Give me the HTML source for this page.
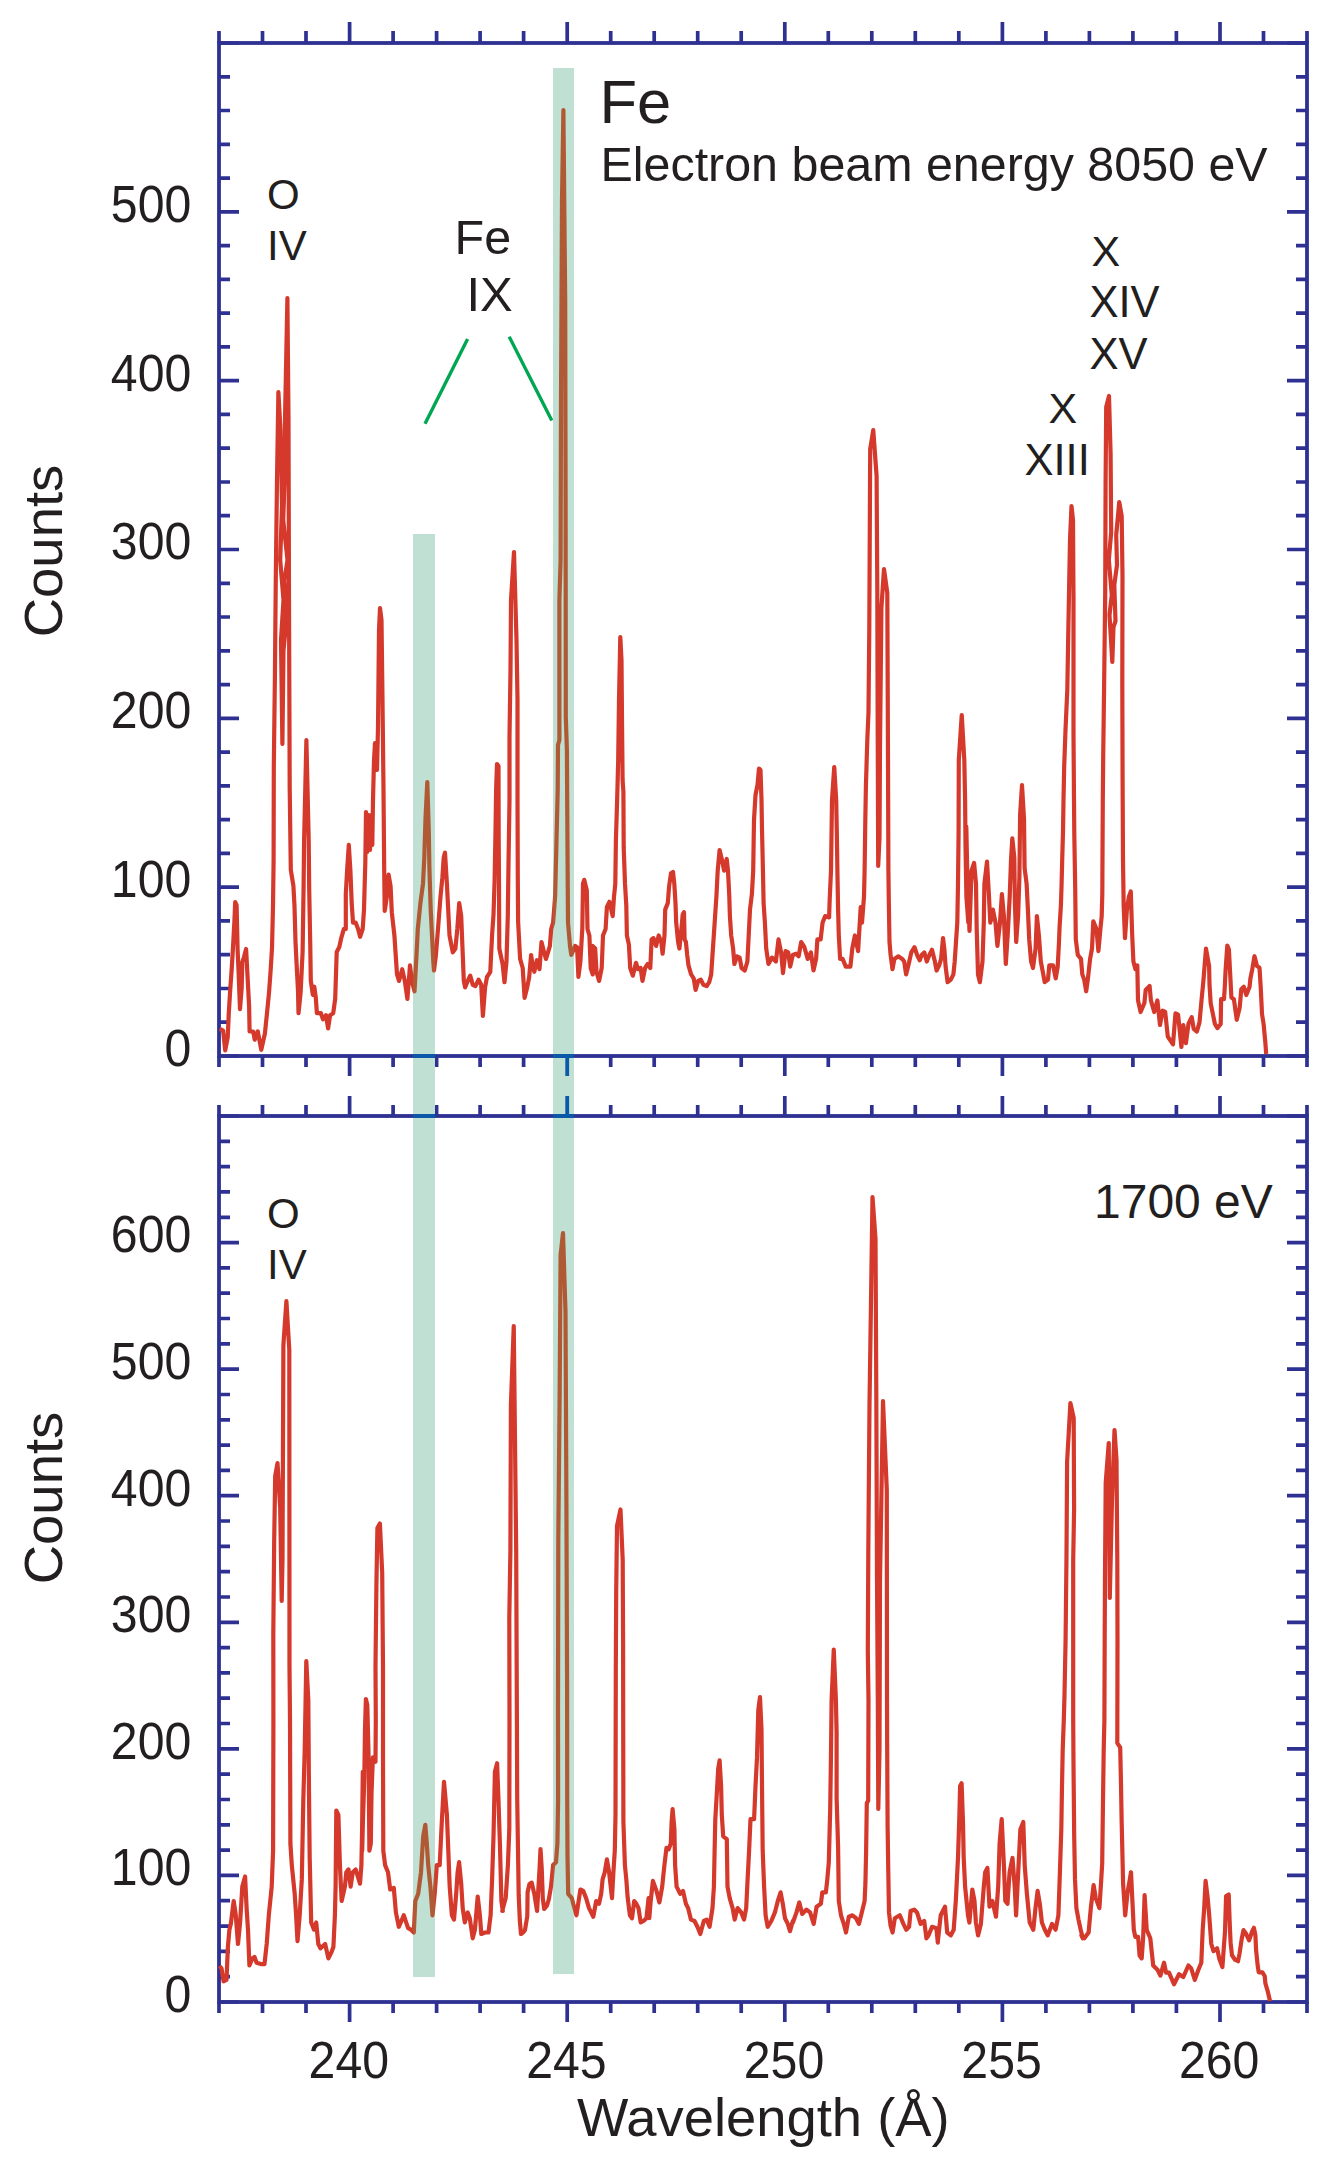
<!DOCTYPE html><html><head><meta charset="utf-8"><style>html,body{margin:0;padding:0;background:#fff;overflow:hidden;}svg{display:block}text{font-family:"Liberation Sans",sans-serif;fill:#231f20}</style></head><body>
<svg width="1331" height="2160" viewBox="0 0 1331 2160">
<rect width="100%" height="100%" fill="#fff"/>
<path d="M219.0 43 V31 M219.0 1056 V1067 M219.0 1116 V1105 M219.0 2002 V2013 M262.5 43 V31 M262.5 1056 V1067 M262.5 1116 V1105 M262.5 2002 V2013 M306.0 43 V31 M306.0 1056 V1067 M306.0 1116 V1105 M306.0 2002 V2013 M349.6 43 V22 M349.6 1056 V1076 M349.6 1116 V1096 M349.6 2002 V2022 M393.1 43 V31 M393.1 1056 V1067 M393.1 1116 V1105 M393.1 2002 V2013 M436.6 43 V31 M436.6 1056 V1067 M436.6 1116 V1105 M436.6 2002 V2013 M480.1 43 V31 M480.1 1056 V1067 M480.1 1116 V1105 M480.1 2002 V2013 M523.6 43 V31 M523.6 1056 V1067 M523.6 1116 V1105 M523.6 2002 V2013 M567.2 43 V22 M567.2 1056 V1076 M567.2 1116 V1096 M567.2 2002 V2022 M610.7 43 V31 M610.7 1056 V1067 M610.7 1116 V1105 M610.7 2002 V2013 M654.2 43 V31 M654.2 1056 V1067 M654.2 1116 V1105 M654.2 2002 V2013 M697.7 43 V31 M697.7 1056 V1067 M697.7 1116 V1105 M697.7 2002 V2013 M741.2 43 V31 M741.2 1056 V1067 M741.2 1116 V1105 M741.2 2002 V2013 M784.8 43 V22 M784.8 1056 V1076 M784.8 1116 V1096 M784.8 2002 V2022 M828.3 43 V31 M828.3 1056 V1067 M828.3 1116 V1105 M828.3 2002 V2013 M871.8 43 V31 M871.8 1056 V1067 M871.8 1116 V1105 M871.8 2002 V2013 M915.3 43 V31 M915.3 1056 V1067 M915.3 1116 V1105 M915.3 2002 V2013 M958.8 43 V31 M958.8 1056 V1067 M958.8 1116 V1105 M958.8 2002 V2013 M1002.4 43 V22 M1002.4 1056 V1076 M1002.4 1116 V1096 M1002.4 2002 V2022 M1045.9 43 V31 M1045.9 1056 V1067 M1045.9 1116 V1105 M1045.9 2002 V2013 M1089.4 43 V31 M1089.4 1056 V1067 M1089.4 1116 V1105 M1089.4 2002 V2013 M1132.9 43 V31 M1132.9 1056 V1067 M1132.9 1116 V1105 M1132.9 2002 V2013 M1176.4 43 V31 M1176.4 1056 V1067 M1176.4 1116 V1105 M1176.4 2002 V2013 M1220.0 43 V22 M1220.0 1056 V1076 M1220.0 1116 V1096 M1220.0 2002 V2022 M1263.5 43 V31 M1263.5 1056 V1067 M1263.5 1116 V1105 M1263.5 2002 V2013 M1307.0 43 V31 M1307.0 1056 V1067 M1307.0 1116 V1105 M1307.0 2002 V2013 M219 1056.0 H239 M1307 1056.0 H1287 M219 1022.2 H230 M1307 1022.2 H1296 M219 988.5 H230 M1307 988.5 H1296 M219 954.7 H230 M1307 954.7 H1296 M219 920.9 H230 M1307 920.9 H1296 M219 887.2 H239 M1307 887.2 H1287 M219 853.4 H230 M1307 853.4 H1296 M219 819.6 H230 M1307 819.6 H1296 M219 785.9 H230 M1307 785.9 H1296 M219 752.1 H230 M1307 752.1 H1296 M219 718.3 H239 M1307 718.3 H1287 M219 684.6 H230 M1307 684.6 H1296 M219 650.8 H230 M1307 650.8 H1296 M219 617.0 H230 M1307 617.0 H1296 M219 583.3 H230 M1307 583.3 H1296 M219 549.5 H239 M1307 549.5 H1287 M219 515.7 H230 M1307 515.7 H1296 M219 482.0 H230 M1307 482.0 H1296 M219 448.2 H230 M1307 448.2 H1296 M219 414.4 H230 M1307 414.4 H1296 M219 380.7 H239 M1307 380.7 H1287 M219 346.9 H230 M1307 346.9 H1296 M219 313.1 H230 M1307 313.1 H1296 M219 279.4 H230 M1307 279.4 H1296 M219 245.6 H230 M1307 245.6 H1296 M219 211.8 H239 M1307 211.8 H1287 M219 178.1 H230 M1307 178.1 H1296 M219 144.3 H230 M1307 144.3 H1296 M219 110.5 H230 M1307 110.5 H1296 M219 76.8 H230 M1307 76.8 H1296 M219 43.0 H239 M1307 43.0 H1287 M219 2002.0 H239 M1307 2002.0 H1287 M219 1976.7 H230 M1307 1976.7 H1296 M219 1951.4 H230 M1307 1951.4 H1296 M219 1926.1 H230 M1307 1926.1 H1296 M219 1900.7 H230 M1307 1900.7 H1296 M219 1875.4 H239 M1307 1875.4 H1287 M219 1850.1 H230 M1307 1850.1 H1296 M219 1824.8 H230 M1307 1824.8 H1296 M219 1799.5 H230 M1307 1799.5 H1296 M219 1774.2 H230 M1307 1774.2 H1296 M219 1748.9 H239 M1307 1748.9 H1287 M219 1723.5 H230 M1307 1723.5 H1296 M219 1698.2 H230 M1307 1698.2 H1296 M219 1672.9 H230 M1307 1672.9 H1296 M219 1647.6 H230 M1307 1647.6 H1296 M219 1622.3 H239 M1307 1622.3 H1287 M219 1597.0 H230 M1307 1597.0 H1296 M219 1571.7 H230 M1307 1571.7 H1296 M219 1546.3 H230 M1307 1546.3 H1296 M219 1521.0 H230 M1307 1521.0 H1296 M219 1495.7 H239 M1307 1495.7 H1287 M219 1470.4 H230 M1307 1470.4 H1296 M219 1445.1 H230 M1307 1445.1 H1296 M219 1419.8 H230 M1307 1419.8 H1296 M219 1394.5 H230 M1307 1394.5 H1296 M219 1369.1 H239 M1307 1369.1 H1287 M219 1343.8 H230 M1307 1343.8 H1296 M219 1318.5 H230 M1307 1318.5 H1296 M219 1293.2 H230 M1307 1293.2 H1296 M219 1267.9 H230 M1307 1267.9 H1296 M219 1242.6 H239 M1307 1242.6 H1287 M219 1217.3 H230 M1307 1217.3 H1296 M219 1191.9 H230 M1307 1191.9 H1296 M219 1166.6 H230 M1307 1166.6 H1296 M219 1141.3 H230 M1307 1141.3 H1296 M219 1116.0 H239 M1307 1116.0 H1287" stroke="#2e3192" stroke-width="3.7" fill="none"/>
<rect x="219" y="43" width="1088" height="1013" stroke="#2e3192" stroke-width="3.8" fill="none"/>
<rect x="219" y="1116" width="1088" height="886" stroke="#2e3192" stroke-width="3.8" fill="none"/>
<defs><clipPath id="bars"><rect x="413" y="534" width="22" height="1443"/><rect x="553" y="68" width="21" height="1906"/></clipPath></defs>
<path d="M219.50 1029.0 L221.30 1029.5 L223.10 1030.5 L225.20 1050.3 L227.70 1037.6 L228.80 1013.2 L230.30 988.7 L231.80 967.3 L233.30 941.9 L234.40 921.5 L235.20 902.1 L236.60 905.2 L237.60 950.0 L238.60 972.4 L240.00 1009.1 L241.70 987.7 L242.30 962.2 L244.00 957.1 L246.10 949.0 L247.60 977.5 L249.10 1006.0 L249.60 1031.5 L253.20 1031.5 L254.70 1039.7 L257.80 1031.5 L261.30 1049.8 L264.90 1033.5 L267.00 1013.2 L269.00 992.8 L270.50 972.4 L272.00 948.0 L273.00 906.2 L273.60 860.4 L273.80 768.0 L274.90 677.0 L275.80 577.0 L277.00 480.0 L278.40 392.0 L280.50 430.0 L282.00 506.0 L280.20 560.0 L283.50 600.0 L281.00 640.0 L282.40 744.0 L283.50 650.0 L286.50 620.0 L284.50 580.0 L287.50 560.0 L283.20 520.0 L284.60 480.0 L285.00 420.0 L287.40 298.0 L288.50 420.0 L289.00 600.0 L289.70 788.0 L290.80 870.0 L291.40 873.6 L293.40 885.8 L294.50 906.2 L295.50 941.9 L296.50 962.2 L298.00 990.8 L298.50 1013.2 L300.60 992.8 L301.60 972.4 L302.60 952.0 L303.60 885.8 L304.10 840.0 L306.40 740.0 L308.70 840.0 L309.20 888.9 L310.20 941.9 L310.80 980.6 L312.80 994.8 L314.30 986.7 L315.80 997.9 L316.90 1013.2 L320.90 1013.2 L323.00 1019.3 L326.00 1015.2 L328.10 1028.5 L330.10 1015.2 L333.20 1013.2 L335.20 998.9 L336.70 952.0 L339.30 947.0 L341.30 937.8 L343.90 928.8 L345.80 929.0 L345.80 894.0 L347.10 870.7 L348.80 844.8 L350.40 870.7 L351.70 903.1 L353.00 922.6 L355.60 922.6 L358.10 929.0 L360.10 936.8 L362.70 929.0 L364.00 909.6 L364.60 887.6 L365.30 863.0 L366.00 812.0 L367.30 852.0 L368.60 815.0 L370.00 850.0 L371.30 815.0 L372.30 845.0 L373.00 800.0 L374.00 760.0 L375.00 743.0 L376.00 750.0 L377.00 770.0 L378.00 727.0 L379.00 630.0 L380.00 608.0 L381.50 620.0 L382.50 700.0 L383.50 790.0 L384.20 870.0 L384.70 910.9 L387.30 894.0 L388.60 874.6 L390.60 886.3 L391.80 912.2 L394.40 935.5 L395.70 955.0 L397.00 974.4 L399.00 980.9 L402.20 969.2 L404.80 980.9 L407.40 999.0 L410.00 965.4 L411.90 980.9 L414.50 991.3 L416.50 955.0 L417.80 929.0 L420.40 903.1 L423.00 883.7 L424.30 857.8 L425.50 818.9 L427.30 782.0 L428.80 831.8 L429.40 868.1 L430.70 909.6 L432.00 935.5 L433.30 961.5 L434.00 970.5 L435.90 955.0 L438.50 922.6 L440.50 896.7 L442.40 877.2 L443.70 857.8 L445.00 852.6 L446.90 883.7 L448.20 909.6 L449.50 935.5 L452.80 952.4 L455.40 948.5 L457.30 929.0 L459.20 903.1 L461.20 916.1 L462.50 948.5 L463.80 980.9 L465.10 987.4 L467.70 980.9 L470.20 975.7 L472.80 984.8 L475.40 986.1 L478.60 979.6 L481.20 984.8 L482.90 1015.9 L485.10 987.4 L487.00 977.0 L490.30 971.8 L490.90 958.9 L492.20 933.0 L493.50 914.8 L494.60 881.1 L495.50 831.8 L496.10 790.0 L497.00 764.0 L498.50 766.0 L498.70 840.0 L499.00 883.7 L499.30 948.5 L502.60 964.0 L504.50 982.2 L506.50 961.5 L507.80 916.1 L508.40 870.7 L509.50 800.0 L509.50 737.0 L510.50 670.0 L511.00 600.0 L514.00 552.0 L516.50 640.0 L517.50 700.0 L517.50 800.0 L517.80 880.0 L518.10 921.3 L520.10 958.9 L522.70 968.0 L524.60 997.8 L527.20 987.4 L529.20 977.0 L531.10 955.0 L532.40 964.0 L534.30 971.8 L536.90 960.2 L539.50 969.2 L541.50 942.0 L544.10 952.4 L546.00 958.9 L548.00 952.4 L549.90 945.9 L551.20 929.0 L553.10 922.6 L555.10 896.7 L556.40 844.8 L557.70 790.0 L558.00 745.0 L559.40 740.0 L559.40 600.0 L560.60 560.0 L561.00 400.0 L562.00 200.0 L563.40 110.0 L565.20 300.0 L565.60 500.0 L565.80 717.0 L566.90 750.0 L567.40 834.4 L568.00 922.6 L570.00 945.9 L571.30 955.0 L575.20 945.9 L577.10 947.2 L578.40 977.0 L580.40 961.5 L582.30 929.0 L583.00 883.7 L584.20 879.8 L586.80 890.2 L587.50 929.0 L589.40 935.5 L590.70 968.0 L592.70 974.4 L592.60 945.9 L595.20 948.5 L596.50 971.8 L599.10 980.9 L601.70 968.0 L603.00 935.5 L605.60 929.0 L606.90 907.0 L609.40 901.8 L612.70 916.1 L614.00 896.7 L615.30 883.7 L615.90 840.9 L617.20 798.1 L618.20 760.0 L619.00 700.0 L620.30 637.0 L621.50 660.0 L622.00 720.0 L622.60 780.0 L623.40 791.7 L623.70 847.4 L625.00 883.7 L626.30 905.7 L626.90 935.5 L628.90 944.6 L630.20 968.0 L632.80 975.7 L636.00 962.8 L638.00 969.2 L640.60 968.0 L642.50 980.9 L645.10 968.0 L647.70 964.0 L650.30 968.0 L651.60 939.4 L653.50 938.1 L656.10 945.9 L658.70 935.5 L661.30 942.0 L662.60 953.7 L664.50 935.5 L665.20 909.6 L667.80 903.1 L669.10 886.3 L671.00 873.3 L673.00 872.0 L674.30 883.7 L675.50 903.1 L676.20 922.6 L678.10 942.0 L679.40 948.5 L681.40 929.0 L682.70 914.8 L684.00 912.2 L684.60 939.4 L685.90 942.0 L687.20 955.0 L688.50 965.4 L691.10 974.4 L693.70 978.3 L695.60 990.0 L698.20 980.9 L700.80 979.6 L703.40 984.8 L706.70 986.1 L709.20 982.2 L711.20 974.4 L712.50 955.0 L713.80 935.5 L715.10 916.1 L716.40 896.7 L717.70 870.7 L719.60 850.0 L722.10 860.4 L724.10 870.7 L726.70 859.0 L728.00 870.7 L729.30 896.7 L729.90 916.1 L731.20 935.5 L733.10 948.5 L734.40 964.0 L737.00 956.3 L739.60 957.6 L741.60 968.0 L744.80 970.5 L747.40 961.5 L748.70 935.5 L750.00 909.6 L751.90 894.1 L753.20 870.7 L754.00 820.0 L755.50 795.0 L757.50 785.0 L759.00 768.5 L760.50 770.0 L761.50 800.0 L762.00 829.3 L763.00 873.3 L763.60 903.1 L764.90 922.6 L766.20 948.5 L768.45 964.0 L772.00 957.6 L775.90 961.5 L778.50 939.4 L781.10 952.4 L783.00 973.1 L785.60 951.1 L788.20 952.4 L790.20 966.6 L792.80 955.0 L796.00 953.7 L798.60 956.3 L801.20 942.0 L804.40 947.2 L807.70 958.9 L810.90 952.4 L813.50 970.5 L816.10 958.9 L817.40 939.4 L820.60 939.4 L822.60 922.6 L825.20 916.1 L829.10 917.4 L829.70 899.2 L831.00 870.7 L832.00 800.0 L834.25 767.0 L836.20 800.0 L836.80 831.8 L837.50 877.2 L838.10 909.6 L838.80 935.5 L840.10 958.9 L842.60 958.9 L845.80 966.6 L850.40 966.6 L852.30 948.5 L854.90 935.5 L858.10 951.1 L859.40 929.0 L860.70 907.0 L862.00 922.6 L864.00 896.7 L864.60 870.7 L865.30 821.5 L865.90 786.5 L867.30 740.0 L868.50 712.0 L869.30 628.0 L870.20 449.0 L873.25 430.0 L876.60 476.0 L877.30 590.0 L877.60 700.0 L878.20 866.0 L879.50 838.0 L880.00 747.0 L881.40 608.0 L884.00 569.0 L887.30 593.0 L888.00 758.0 L888.40 870.0 L888.80 900.5 L889.50 942.0 L890.60 955.0 L892.50 969.2 L894.40 958.9 L898.30 956.3 L902.20 958.9 L904.20 961.5 L906.10 974.4 L908.70 964.0 L911.30 952.4 L914.50 947.2 L917.10 955.0 L919.70 960.2 L921.70 955.0 L924.30 952.4 L926.80 961.5 L929.40 955.0 L932.00 949.8 L934.60 960.2 L936.60 970.5 L939.20 965.4 L941.10 958.9 L943.00 938.1 L944.30 948.5 L945.60 966.6 L947.60 982.2 L950.80 979.6 L953.40 974.4 L954.70 961.5 L956.00 942.0 L957.30 922.6 L958.00 883.7 L958.60 831.8 L958.80 760.0 L961.75 715.0 L964.30 760.0 L965.10 800.0 L965.50 844.8 L966.40 896.7 L968.30 922.6 L966.30 826.7 L966.90 873.3 L967.60 890.2 L969.50 931.0 L971.50 870.7 L974.10 863.0 L976.00 883.7 L976.70 929.0 L978.00 974.4 L979.90 982.2 L982.50 961.5 L983.80 922.6 L984.40 883.7 L987.00 861.7 L989.00 896.7 L990.30 922.6 L992.90 909.6 L995.50 922.6 L997.40 945.9 L1000.00 922.6 L1001.90 894.1 L1003.90 916.1 L1005.80 964.0 L1007.80 933.0 L1009.70 896.7 L1011.00 860.4 L1012.30 838.3 L1014.30 857.8 L1014.90 903.1 L1016.20 942.0 L1018.10 916.1 L1019.40 877.2 L1020.10 815.0 L1022.00 785.2 L1024.00 818.9 L1024.60 868.1 L1026.60 883.7 L1027.90 909.6 L1029.20 939.4 L1031.10 961.5 L1033.00 968.0 L1035.60 948.5 L1036.90 916.1 L1038.90 935.5 L1040.80 961.5 L1042.80 971.8 L1044.70 982.2 L1048.00 979.6 L1049.30 965.4 L1053.10 965.4 L1055.70 978.3 L1057.70 966.6 L1059.00 942.0 L1059.60 926.5 L1060.90 905.7 L1061.60 883.7 L1062.20 860.4 L1063.00 831.8 L1063.50 800.0 L1064.20 766.0 L1065.50 730.0 L1067.30 690.0 L1068.50 620.0 L1070.00 540.0 L1071.50 506.0 L1073.00 520.0 L1073.50 600.0 L1073.50 734.0 L1074.00 800.0 L1074.30 834.4 L1075.20 887.6 L1075.80 939.4 L1077.80 955.0 L1081.00 958.9 L1082.30 974.4 L1084.20 979.6 L1086.20 991.3 L1088.10 977.0 L1090.10 958.9 L1092.00 948.5 L1093.30 921.3 L1096.50 929.0 L1098.40 951.1 L1100.40 929.0 L1101.70 916.1 L1102.30 894.1 L1102.80 800.0 L1103.20 757.0 L1104.00 695.0 L1105.20 594.0 L1105.60 483.0 L1106.20 407.0 L1109.00 396.0 L1110.60 454.0 L1111.20 532.0 L1108.80 560.0 L1111.80 595.0 L1109.50 615.0 L1112.30 662.0 L1113.50 627.0 L1115.50 621.0 L1114.30 585.0 L1117.00 565.0 L1116.20 535.0 L1119.25 502.0 L1121.70 516.0 L1122.50 576.0 L1122.30 683.0 L1122.60 780.0 L1123.00 860.4 L1123.70 907.0 L1125.00 938.1 L1126.90 909.6 L1128.90 896.7 L1130.80 891.5 L1132.10 933.0 L1133.40 961.5 L1135.40 969.2 L1137.30 965.4 L1138.00 1000.4 L1140.60 1012.0 L1144.40 1003.0 L1145.70 990.0 L1149.60 986.1 L1150.90 1000.4 L1154.20 1012.0 L1157.40 1000.4 L1160.00 1025.0 L1162.60 1010.7 L1165.20 1012.0 L1167.80 1036.6 L1173.00 1044.4 L1175.50 1013.3 L1178.10 1014.6 L1181.40 1047.0 L1183.30 1025.0 L1185.90 1043.1 L1188.50 1023.7 L1191.70 1017.2 L1193.70 1028.9 L1196.90 1031.5 L1199.50 1022.4 L1201.50 1000.4 L1203.40 981.0 L1206.00 948.5 L1209.10 966.1 L1209.50 984.3 L1210.70 1003.3 L1212.40 1011.6 L1214.90 1024.0 L1217.40 1028.1 L1220.70 1024.0 L1221.10 999.2 L1224.00 999.2 L1224.80 986.8 L1225.60 970.2 L1227.30 945.5 L1228.90 949.6 L1230.20 974.4 L1231.40 997.5 L1233.90 999.2 L1236.75 1019.8 L1239.70 1007.4 L1241.30 989.3 L1243.80 986.8 L1246.30 995.0 L1249.60 986.8 L1250.40 978.5 L1252.10 970.2 L1254.50 956.2 L1257.00 966.1 L1259.50 967.8 L1260.70 986.8 L1262.00 1014.0 L1263.60 1024.0 L1265.30 1042.1 L1266.20 1054.0" stroke="#d5392c" stroke-width="4.2" fill="none" stroke-linejoin="round"/>
<path d="M219.50 1966.0 L221.50 1968.4 L223.60 1981.3 L226.50 1979.9 L227.90 1946.9 L229.40 1929.7 L230.80 1923.9 L233.70 1901.0 L235.80 1915.3 L238.00 1944.0 L240.10 1922.5 L242.30 1886.6 L245.10 1876.5 L246.60 1908.1 L248.00 1929.7 L249.40 1965.5 L252.30 1958.4 L254.50 1956.9 L256.60 1962.7 L260.90 1964.1 L264.50 1964.1 L266.70 1944.0 L268.80 1915.3 L271.70 1886.6 L273.10 1850.7 L273.40 1720.0 L273.30 1634.0 L274.20 1540.0 L275.20 1476.0 L277.50 1463.0 L280.20 1508.0 L281.70 1601.0 L282.50 1560.0 L283.40 1345.0 L286.40 1301.0 L289.30 1350.0 L289.50 1667.0 L290.00 1720.0 L290.40 1843.5 L291.80 1865.1 L294.70 1893.8 L296.10 1915.3 L297.50 1941.1 L299.70 1915.3 L301.80 1879.4 L303.30 1800.5 L304.70 1750.2 L306.30 1661.0 L308.30 1700.0 L309.00 1793.3 L309.70 1857.9 L311.20 1922.5 L314.00 1929.7 L316.20 1922.5 L318.30 1944.0 L320.50 1948.3 L325.15 1944.0 L328.40 1958.4 L331.30 1952.6 L333.40 1946.9 L334.90 1915.3 L335.60 1886.6 L336.30 1810.5 L338.40 1814.8 L339.90 1865.1 L341.65 1901.0 L344.90 1886.6 L346.30 1872.2 L348.50 1869.4 L350.60 1886.6 L352.80 1872.2 L355.70 1869.4 L357.80 1876.5 L360.00 1883.7 L361.40 1865.1 L362.10 1829.2 L362.80 1771.8 L362.20 1850.7 L362.90 1822.0 L364.30 1779.0 L365.00 1728.7 L365.90 1699.0 L367.30 1705.0 L368.60 1757.4 L369.40 1850.7 L370.80 1843.5 L371.50 1793.3 L372.90 1757.4 L375.50 1761.7 L375.80 1720.0 L375.50 1667.0 L376.40 1585.0 L377.40 1528.0 L379.90 1523.5 L382.20 1573.0 L383.00 1667.0 L383.00 1757.4 L383.30 1850.7 L385.10 1865.1 L388.00 1872.2 L390.20 1889.5 L393.80 1888.0 L395.90 1912.4 L398.80 1926.8 L403.80 1915.3 L408.10 1928.2 L411.00 1929.7 L413.80 1932.5 L415.30 1901.0 L418.20 1893.8 L421.00 1872.2 L423.20 1836.4 L425.30 1824.9 L426.80 1843.5 L428.20 1865.1 L430.40 1886.6 L432.50 1915.3 L434.70 1893.8 L436.80 1865.1 L439.70 1865.1 L441.80 1822.0 L444.00 1781.8 L446.90 1814.8 L448.30 1850.7 L449.70 1886.6 L451.90 1915.3 L454.00 1919.6 L456.20 1893.8 L457.60 1872.2 L459.10 1862.2 L461.20 1883.7 L462.70 1908.1 L464.80 1922.5 L467.70 1912.4 L469.80 1918.2 L472.70 1938.3 L474.90 1929.7 L477.70 1896.6 L479.90 1915.3 L481.30 1934.0 L484.90 1932.5 L488.50 1932.5 L490.60 1915.3 L492.10 1879.4 L493.50 1836.4 L494.90 1771.8 L497.10 1763.2 L498.50 1800.5 L499.90 1843.5 L501.40 1901.0 L502.80 1911.0 L502.20 1911.0 L505.70 1898.0 L507.90 1865.1 L509.30 1829.2 L509.50 1720.0 L509.30 1618.0 L510.40 1551.0 L510.90 1405.0 L513.75 1326.0 L516.20 1551.0 L516.90 1720.0 L517.20 1797.6 L517.90 1843.5 L518.70 1895.2 L519.80 1920.0 L521.00 1934.0 L523.50 1932.0 L525.00 1930.0 L527.30 1916.0 L527.60 1892.0 L529.50 1884.0 L531.70 1882.6 L534.40 1894.4 L537.05 1911.0 L539.50 1870.0 L540.50 1849.0 L541.80 1870.0 L542.80 1898.6 L544.20 1909.0 L546.90 1905.6 L548.80 1899.5 L551.00 1886.6 L553.10 1865.1 L556.00 1862.2 L557.40 1843.5 L558.10 1800.5 L558.00 1713.0 L558.30 1539.0 L559.70 1389.0 L560.60 1255.0 L563.00 1233.0 L565.50 1312.0 L566.40 1500.0 L567.10 1690.0 L567.20 1800.5 L567.50 1856.5 L568.20 1893.8 L571.80 1898.1 L573.20 1903.8 L576.45 1915.3 L580.40 1889.5 L583.20 1890.9 L586.10 1898.1 L589.00 1908.1 L593.30 1916.7 L596.20 1901.0 L599.00 1903.8 L601.20 1893.8 L602.60 1879.4 L604.80 1872.2 L606.90 1859.3 L609.10 1872.2 L612.00 1898.1 L613.40 1872.2 L614.80 1850.7 L615.50 1814.8 L615.80 1671.0 L616.20 1593.0 L617.00 1526.0 L620.50 1509.5 L622.70 1560.0 L623.10 1644.0 L623.20 1720.0 L623.40 1822.0 L624.90 1865.1 L626.30 1879.4 L627.70 1898.1 L629.90 1915.3 L632.00 1918.2 L634.20 1901.0 L636.40 1903.8 L638.50 1908.1 L640.70 1922.5 L643.50 1921.0 L646.40 1918.2 L648.60 1898.1 L649.30 1918.2 L650.70 1901.0 L652.90 1880.9 L656.50 1890.9 L659.40 1902.4 L662.20 1886.6 L664.40 1865.1 L666.50 1847.8 L668.70 1849.3 L670.80 1843.5 L671.60 1822.0 L672.60 1809.1 L674.40 1829.2 L675.10 1865.1 L676.60 1886.6 L680.20 1893.8 L683.00 1890.9 L685.90 1903.8 L688.10 1908.1 L690.90 1919.6 L694.50 1921.0 L697.40 1926.8 L700.30 1934.0 L703.80 1921.0 L706.70 1919.6 L709.60 1926.8 L712.50 1908.1 L713.90 1886.6 L714.60 1850.7 L715.30 1819.1 L716.80 1793.3 L718.20 1768.9 L719.60 1760.3 L721.10 1786.1 L721.80 1814.8 L723.20 1836.4 L726.80 1839.2 L727.50 1886.6 L729.70 1898.1 L732.60 1908.1 L734.70 1919.6 L737.60 1908.1 L741.20 1912.4 L744.00 1919.6 L746.20 1908.1 L747.60 1879.4 L749.10 1850.7 L750.50 1819.1 L754.10 1819.1 L755.50 1786.1 L757.00 1757.4 L758.30 1710.0 L760.00 1697.0 L761.50 1730.0 L762.00 1786.1 L762.70 1850.7 L764.10 1886.6 L765.60 1915.3 L767.70 1926.8 L771.30 1921.0 L774.90 1912.4 L777.80 1901.0 L780.60 1892.3 L782.80 1903.8 L785.00 1918.2 L787.80 1923.9 L790.00 1931.1 L792.80 1921.0 L792.90 1922.5 L796.50 1912.4 L799.30 1902.4 L802.20 1913.9 L806.50 1909.6 L810.10 1912.4 L813.70 1923.9 L816.60 1906.7 L820.90 1903.8 L822.30 1892.3 L825.90 1892.3 L827.30 1879.4 L828.80 1862.2 L830.20 1809.1 L830.90 1760.3 L831.60 1700.0 L833.75 1649.5 L835.90 1700.0 L836.60 1733.0 L836.60 1797.6 L838.10 1847.8 L838.80 1901.0 L841.00 1915.3 L843.80 1923.9 L846.00 1932.5 L848.80 1916.7 L852.40 1915.3 L856.00 1918.2 L858.90 1923.9 L861.80 1912.4 L864.60 1901.0 L865.40 1883.7 L866.10 1852.1 L866.80 1803.3 L868.20 1800.5 L868.50 1700.0 L867.80 1650.0 L868.30 1552.0 L869.50 1405.0 L872.50 1197.0 L875.50 1239.0 L876.30 1392.0 L877.00 1577.0 L877.80 1700.0 L878.30 1809.0 L879.50 1750.0 L880.00 1580.0 L883.00 1401.0 L886.80 1490.0 L887.00 1700.0 L887.20 1750.2 L887.60 1826.3 L888.30 1872.2 L889.00 1912.4 L890.50 1925.3 L892.60 1932.5 L894.80 1918.2 L899.80 1915.3 L903.40 1923.9 L906.30 1929.7 L909.10 1926.8 L910.60 1911.0 L914.20 1909.6 L917.00 1912.4 L920.60 1923.9 L924.20 1921.0 L926.40 1938.3 L928.50 1935.4 L932.10 1926.8 L936.40 1928.2 L937.80 1942.6 L937.90 1941.1 L940.70 1915.3 L945.00 1906.7 L947.20 1932.5 L950.80 1935.4 L953.70 1929.7 L955.80 1901.0 L958.00 1857.9 L959.40 1814.8 L960.10 1786.1 L961.60 1783.3 L963.00 1822.0 L963.70 1857.9 L965.10 1886.6 L968.00 1915.3 L969.40 1922.5 L972.30 1889.5 L974.50 1901.0 L975.90 1922.5 L978.10 1935.4 L980.90 1923.9 L983.80 1886.6 L985.20 1872.2 L987.40 1867.9 L988.80 1893.8 L989.50 1906.7 L992.40 1901.0 L996.00 1916.7 L998.20 1886.6 L999.60 1843.5 L1001.70 1819.1 L1003.90 1865.1 L1005.30 1901.0 L1007.50 1903.8 L1009.60 1872.2 L1012.50 1857.9 L1014.70 1886.6 L1016.10 1915.3 L1018.20 1872.2 L1020.40 1829.2 L1023.30 1822.0 L1024.70 1865.1 L1026.90 1893.8 L1029.70 1922.5 L1033.30 1929.7 L1035.50 1908.1 L1037.60 1890.9 L1039.80 1903.8 L1041.90 1922.5 L1044.80 1929.7 L1047.70 1935.4 L1052.00 1923.9 L1055.60 1929.7 L1058.40 1915.3 L1059.90 1872.2 L1061.30 1829.2 L1062.00 1786.1 L1062.70 1750.2 L1063.80 1719.8 L1064.50 1695.0 L1065.60 1639.0 L1066.50 1555.0 L1067.10 1462.0 L1070.40 1403.0 L1073.70 1418.0 L1074.10 1509.0 L1073.20 1560.0 L1073.20 1719.8 L1073.50 1764.6 L1074.20 1836.4 L1075.00 1879.4 L1076.40 1908.1 L1078.50 1919.6 L1080.70 1929.7 L1082.80 1938.3 L1081.40 1935.4 L1084.30 1938.3 L1088.60 1932.5 L1090.80 1908.1 L1093.60 1885.2 L1095.80 1898.1 L1099.40 1908.1 L1100.80 1886.6 L1102.20 1863.6 L1103.00 1800.5 L1103.70 1750.2 L1104.40 1720.0 L1104.70 1637.0 L1105.00 1575.0 L1105.70 1483.0 L1108.75 1443.0 L1109.80 1598.0 L1112.00 1500.0 L1114.50 1430.0 L1116.50 1460.0 L1117.30 1560.0 L1117.50 1640.0 L1117.30 1743.1 L1120.20 1747.4 L1120.90 1778.9 L1121.60 1819.1 L1123.10 1883.7 L1125.20 1915.3 L1127.40 1893.8 L1131.00 1872.2 L1132.40 1901.0 L1133.80 1929.7 L1135.30 1936.8 L1138.10 1936.8 L1139.60 1955.5 L1141.70 1958.4 L1143.20 1936.8 L1144.60 1895.2 L1146.70 1929.7 L1150.30 1938.3 L1153.20 1965.5 L1157.50 1969.8 L1160.40 1975.6 L1164.00 1962.7 L1166.10 1972.7 L1169.00 1972.7 L1174.00 1984.2 L1179.00 1974.2 L1183.30 1977.0 L1188.40 1965.5 L1191.20 1968.4 L1194.80 1979.9 L1198.40 1969.8 L1201.30 1962.7 L1202.70 1929.7 L1204.20 1908.1 L1205.60 1880.9 L1207.70 1898.1 L1209.20 1915.3 L1211.30 1944.0 L1213.50 1951.2 L1217.10 1948.3 L1219.20 1958.4 L1222.40 1967.1 L1225.00 1931.5 L1226.10 1896.0 L1228.70 1894.5 L1229.80 1925.6 L1230.60 1942.7 L1232.00 1955.3 L1235.00 1959.7 L1238.00 1961.2 L1239.50 1953.8 L1241.70 1939.0 L1243.50 1930.1 L1246.10 1933.8 L1249.10 1940.4 L1252.10 1931.5 L1253.90 1927.8 L1255.40 1935.2 L1256.10 1950.1 L1257.60 1964.9 L1258.70 1972.3 L1262.40 1972.3 L1264.70 1976.0 L1265.40 1983.4 L1267.60 1990.8 L1270.00 2001.0" stroke="#d5392c" stroke-width="4.2" fill="none" stroke-linejoin="round"/>
<text transform="translate(191.3,1065.8) scale(0.932,1)" font-size="51.75" text-anchor="end">0</text>
<text transform="translate(191.3,897.0) scale(0.932,1)" font-size="51.75" text-anchor="end">100</text>
<text transform="translate(191.3,728.1) scale(0.932,1)" font-size="51.75" text-anchor="end">200</text>
<text transform="translate(191.3,559.3) scale(0.932,1)" font-size="51.75" text-anchor="end">300</text>
<text transform="translate(191.3,390.5) scale(0.932,1)" font-size="51.75" text-anchor="end">400</text>
<text transform="translate(191.3,221.6) scale(0.932,1)" font-size="51.75" text-anchor="end">500</text>
<text transform="translate(191.3,2011.8) scale(0.932,1)" font-size="51.75" text-anchor="end">0</text>
<text transform="translate(191.3,1885.2) scale(0.932,1)" font-size="51.75" text-anchor="end">100</text>
<text transform="translate(191.3,1758.7) scale(0.932,1)" font-size="51.75" text-anchor="end">200</text>
<text transform="translate(191.3,1632.1) scale(0.932,1)" font-size="51.75" text-anchor="end">300</text>
<text transform="translate(191.3,1505.5) scale(0.932,1)" font-size="51.75" text-anchor="end">400</text>
<text transform="translate(191.3,1378.9) scale(0.932,1)" font-size="51.75" text-anchor="end">500</text>
<text transform="translate(191.3,1252.4) scale(0.932,1)" font-size="51.75" text-anchor="end">600</text>
<text transform="translate(348.8,2078.3) scale(0.932,1)" font-size="51.75" text-anchor="middle">240</text>
<text transform="translate(566.4,2078.3) scale(0.932,1)" font-size="51.75" text-anchor="middle">245</text>
<text transform="translate(784.0,2078.3) scale(0.932,1)" font-size="51.75" text-anchor="middle">250</text>
<text transform="translate(1001.6,2078.3) scale(0.932,1)" font-size="51.75" text-anchor="middle">255</text>
<text transform="translate(1219.2,2078.3) scale(0.932,1)" font-size="51.75" text-anchor="middle">260</text>
<text x="763.3" y="2135.5" font-size="54.4" text-anchor="middle">Wavelength (Å)</text>
<text transform="translate(62,551) rotate(-90)" font-size="54.5" text-anchor="middle">Counts</text>
<text transform="translate(62,1498) rotate(-90)" font-size="54.5" text-anchor="middle">Counts</text>
<text x="599.5" y="123" font-size="61.5">Fe</text>
<text x="600.5" y="181" font-size="48.4">Electron beam energy 8050 eV</text>
<text x="267" y="209" font-size="42">O</text>
<text x="267" y="260" font-size="42">IV</text>
<text x="267" y="1228" font-size="42">O</text>
<text x="267" y="1279" font-size="42">IV</text>
<text x="454.5" y="254.3" font-size="48.5">Fe</text>
<text x="466.5" y="311" font-size="49">IX</text>
<text x="1091.5" y="266" font-size="43">X</text>
<text x="1089.5" y="317" font-size="43.5">XIV</text>
<text x="1089.5" y="369" font-size="43.5">XV</text>
<text x="1048.5" y="423" font-size="43">X</text>
<text x="1024.5" y="474.5" font-size="43.5">XIII</text>
<text x="1094" y="1218" font-size="48">1700 eV</text>
<path d="M467.6 339.1 L425 423.8 M509.2 336.7 L551.8 420.4" stroke="#00a651" stroke-width="3.4" fill="none"/>
<rect x="413" y="534" width="22" height="1443" fill="#bfe0d2"/>
<rect x="553" y="68" width="21" height="1906" fill="#bfe0d2"/>
<g clip-path="url(#bars)">
<path d="M219.50 1029.0 L221.30 1029.5 L223.10 1030.5 L225.20 1050.3 L227.70 1037.6 L228.80 1013.2 L230.30 988.7 L231.80 967.3 L233.30 941.9 L234.40 921.5 L235.20 902.1 L236.60 905.2 L237.60 950.0 L238.60 972.4 L240.00 1009.1 L241.70 987.7 L242.30 962.2 L244.00 957.1 L246.10 949.0 L247.60 977.5 L249.10 1006.0 L249.60 1031.5 L253.20 1031.5 L254.70 1039.7 L257.80 1031.5 L261.30 1049.8 L264.90 1033.5 L267.00 1013.2 L269.00 992.8 L270.50 972.4 L272.00 948.0 L273.00 906.2 L273.60 860.4 L273.80 768.0 L274.90 677.0 L275.80 577.0 L277.00 480.0 L278.40 392.0 L280.50 430.0 L282.00 506.0 L280.20 560.0 L283.50 600.0 L281.00 640.0 L282.40 744.0 L283.50 650.0 L286.50 620.0 L284.50 580.0 L287.50 560.0 L283.20 520.0 L284.60 480.0 L285.00 420.0 L287.40 298.0 L288.50 420.0 L289.00 600.0 L289.70 788.0 L290.80 870.0 L291.40 873.6 L293.40 885.8 L294.50 906.2 L295.50 941.9 L296.50 962.2 L298.00 990.8 L298.50 1013.2 L300.60 992.8 L301.60 972.4 L302.60 952.0 L303.60 885.8 L304.10 840.0 L306.40 740.0 L308.70 840.0 L309.20 888.9 L310.20 941.9 L310.80 980.6 L312.80 994.8 L314.30 986.7 L315.80 997.9 L316.90 1013.2 L320.90 1013.2 L323.00 1019.3 L326.00 1015.2 L328.10 1028.5 L330.10 1015.2 L333.20 1013.2 L335.20 998.9 L336.70 952.0 L339.30 947.0 L341.30 937.8 L343.90 928.8 L345.80 929.0 L345.80 894.0 L347.10 870.7 L348.80 844.8 L350.40 870.7 L351.70 903.1 L353.00 922.6 L355.60 922.6 L358.10 929.0 L360.10 936.8 L362.70 929.0 L364.00 909.6 L364.60 887.6 L365.30 863.0 L366.00 812.0 L367.30 852.0 L368.60 815.0 L370.00 850.0 L371.30 815.0 L372.30 845.0 L373.00 800.0 L374.00 760.0 L375.00 743.0 L376.00 750.0 L377.00 770.0 L378.00 727.0 L379.00 630.0 L380.00 608.0 L381.50 620.0 L382.50 700.0 L383.50 790.0 L384.20 870.0 L384.70 910.9 L387.30 894.0 L388.60 874.6 L390.60 886.3 L391.80 912.2 L394.40 935.5 L395.70 955.0 L397.00 974.4 L399.00 980.9 L402.20 969.2 L404.80 980.9 L407.40 999.0 L410.00 965.4 L411.90 980.9 L414.50 991.3 L416.50 955.0 L417.80 929.0 L420.40 903.1 L423.00 883.7 L424.30 857.8 L425.50 818.9 L427.30 782.0 L428.80 831.8 L429.40 868.1 L430.70 909.6 L432.00 935.5 L433.30 961.5 L434.00 970.5 L435.90 955.0 L438.50 922.6 L440.50 896.7 L442.40 877.2 L443.70 857.8 L445.00 852.6 L446.90 883.7 L448.20 909.6 L449.50 935.5 L452.80 952.4 L455.40 948.5 L457.30 929.0 L459.20 903.1 L461.20 916.1 L462.50 948.5 L463.80 980.9 L465.10 987.4 L467.70 980.9 L470.20 975.7 L472.80 984.8 L475.40 986.1 L478.60 979.6 L481.20 984.8 L482.90 1015.9 L485.10 987.4 L487.00 977.0 L490.30 971.8 L490.90 958.9 L492.20 933.0 L493.50 914.8 L494.60 881.1 L495.50 831.8 L496.10 790.0 L497.00 764.0 L498.50 766.0 L498.70 840.0 L499.00 883.7 L499.30 948.5 L502.60 964.0 L504.50 982.2 L506.50 961.5 L507.80 916.1 L508.40 870.7 L509.50 800.0 L509.50 737.0 L510.50 670.0 L511.00 600.0 L514.00 552.0 L516.50 640.0 L517.50 700.0 L517.50 800.0 L517.80 880.0 L518.10 921.3 L520.10 958.9 L522.70 968.0 L524.60 997.8 L527.20 987.4 L529.20 977.0 L531.10 955.0 L532.40 964.0 L534.30 971.8 L536.90 960.2 L539.50 969.2 L541.50 942.0 L544.10 952.4 L546.00 958.9 L548.00 952.4 L549.90 945.9 L551.20 929.0 L553.10 922.6 L555.10 896.7 L556.40 844.8 L557.70 790.0 L558.00 745.0 L559.40 740.0 L559.40 600.0 L560.60 560.0 L561.00 400.0 L562.00 200.0 L563.40 110.0 L565.20 300.0 L565.60 500.0 L565.80 717.0 L566.90 750.0 L567.40 834.4 L568.00 922.6 L570.00 945.9 L571.30 955.0 L575.20 945.9 L577.10 947.2 L578.40 977.0 L580.40 961.5 L582.30 929.0 L583.00 883.7 L584.20 879.8 L586.80 890.2 L587.50 929.0 L589.40 935.5 L590.70 968.0 L592.70 974.4 L592.60 945.9 L595.20 948.5 L596.50 971.8 L599.10 980.9 L601.70 968.0 L603.00 935.5 L605.60 929.0 L606.90 907.0 L609.40 901.8 L612.70 916.1 L614.00 896.7 L615.30 883.7 L615.90 840.9 L617.20 798.1 L618.20 760.0 L619.00 700.0 L620.30 637.0 L621.50 660.0 L622.00 720.0 L622.60 780.0 L623.40 791.7 L623.70 847.4 L625.00 883.7 L626.30 905.7 L626.90 935.5 L628.90 944.6 L630.20 968.0 L632.80 975.7 L636.00 962.8 L638.00 969.2 L640.60 968.0 L642.50 980.9 L645.10 968.0 L647.70 964.0 L650.30 968.0 L651.60 939.4 L653.50 938.1 L656.10 945.9 L658.70 935.5 L661.30 942.0 L662.60 953.7 L664.50 935.5 L665.20 909.6 L667.80 903.1 L669.10 886.3 L671.00 873.3 L673.00 872.0 L674.30 883.7 L675.50 903.1 L676.20 922.6 L678.10 942.0 L679.40 948.5 L681.40 929.0 L682.70 914.8 L684.00 912.2 L684.60 939.4 L685.90 942.0 L687.20 955.0 L688.50 965.4 L691.10 974.4 L693.70 978.3 L695.60 990.0 L698.20 980.9 L700.80 979.6 L703.40 984.8 L706.70 986.1 L709.20 982.2 L711.20 974.4 L712.50 955.0 L713.80 935.5 L715.10 916.1 L716.40 896.7 L717.70 870.7 L719.60 850.0 L722.10 860.4 L724.10 870.7 L726.70 859.0 L728.00 870.7 L729.30 896.7 L729.90 916.1 L731.20 935.5 L733.10 948.5 L734.40 964.0 L737.00 956.3 L739.60 957.6 L741.60 968.0 L744.80 970.5 L747.40 961.5 L748.70 935.5 L750.00 909.6 L751.90 894.1 L753.20 870.7 L754.00 820.0 L755.50 795.0 L757.50 785.0 L759.00 768.5 L760.50 770.0 L761.50 800.0 L762.00 829.3 L763.00 873.3 L763.60 903.1 L764.90 922.6 L766.20 948.5 L768.45 964.0 L772.00 957.6 L775.90 961.5 L778.50 939.4 L781.10 952.4 L783.00 973.1 L785.60 951.1 L788.20 952.4 L790.20 966.6 L792.80 955.0 L796.00 953.7 L798.60 956.3 L801.20 942.0 L804.40 947.2 L807.70 958.9 L810.90 952.4 L813.50 970.5 L816.10 958.9 L817.40 939.4 L820.60 939.4 L822.60 922.6 L825.20 916.1 L829.10 917.4 L829.70 899.2 L831.00 870.7 L832.00 800.0 L834.25 767.0 L836.20 800.0 L836.80 831.8 L837.50 877.2 L838.10 909.6 L838.80 935.5 L840.10 958.9 L842.60 958.9 L845.80 966.6 L850.40 966.6 L852.30 948.5 L854.90 935.5 L858.10 951.1 L859.40 929.0 L860.70 907.0 L862.00 922.6 L864.00 896.7 L864.60 870.7 L865.30 821.5 L865.90 786.5 L867.30 740.0 L868.50 712.0 L869.30 628.0 L870.20 449.0 L873.25 430.0 L876.60 476.0 L877.30 590.0 L877.60 700.0 L878.20 866.0 L879.50 838.0 L880.00 747.0 L881.40 608.0 L884.00 569.0 L887.30 593.0 L888.00 758.0 L888.40 870.0 L888.80 900.5 L889.50 942.0 L890.60 955.0 L892.50 969.2 L894.40 958.9 L898.30 956.3 L902.20 958.9 L904.20 961.5 L906.10 974.4 L908.70 964.0 L911.30 952.4 L914.50 947.2 L917.10 955.0 L919.70 960.2 L921.70 955.0 L924.30 952.4 L926.80 961.5 L929.40 955.0 L932.00 949.8 L934.60 960.2 L936.60 970.5 L939.20 965.4 L941.10 958.9 L943.00 938.1 L944.30 948.5 L945.60 966.6 L947.60 982.2 L950.80 979.6 L953.40 974.4 L954.70 961.5 L956.00 942.0 L957.30 922.6 L958.00 883.7 L958.60 831.8 L958.80 760.0 L961.75 715.0 L964.30 760.0 L965.10 800.0 L965.50 844.8 L966.40 896.7 L968.30 922.6 L966.30 826.7 L966.90 873.3 L967.60 890.2 L969.50 931.0 L971.50 870.7 L974.10 863.0 L976.00 883.7 L976.70 929.0 L978.00 974.4 L979.90 982.2 L982.50 961.5 L983.80 922.6 L984.40 883.7 L987.00 861.7 L989.00 896.7 L990.30 922.6 L992.90 909.6 L995.50 922.6 L997.40 945.9 L1000.00 922.6 L1001.90 894.1 L1003.90 916.1 L1005.80 964.0 L1007.80 933.0 L1009.70 896.7 L1011.00 860.4 L1012.30 838.3 L1014.30 857.8 L1014.90 903.1 L1016.20 942.0 L1018.10 916.1 L1019.40 877.2 L1020.10 815.0 L1022.00 785.2 L1024.00 818.9 L1024.60 868.1 L1026.60 883.7 L1027.90 909.6 L1029.20 939.4 L1031.10 961.5 L1033.00 968.0 L1035.60 948.5 L1036.90 916.1 L1038.90 935.5 L1040.80 961.5 L1042.80 971.8 L1044.70 982.2 L1048.00 979.6 L1049.30 965.4 L1053.10 965.4 L1055.70 978.3 L1057.70 966.6 L1059.00 942.0 L1059.60 926.5 L1060.90 905.7 L1061.60 883.7 L1062.20 860.4 L1063.00 831.8 L1063.50 800.0 L1064.20 766.0 L1065.50 730.0 L1067.30 690.0 L1068.50 620.0 L1070.00 540.0 L1071.50 506.0 L1073.00 520.0 L1073.50 600.0 L1073.50 734.0 L1074.00 800.0 L1074.30 834.4 L1075.20 887.6 L1075.80 939.4 L1077.80 955.0 L1081.00 958.9 L1082.30 974.4 L1084.20 979.6 L1086.20 991.3 L1088.10 977.0 L1090.10 958.9 L1092.00 948.5 L1093.30 921.3 L1096.50 929.0 L1098.40 951.1 L1100.40 929.0 L1101.70 916.1 L1102.30 894.1 L1102.80 800.0 L1103.20 757.0 L1104.00 695.0 L1105.20 594.0 L1105.60 483.0 L1106.20 407.0 L1109.00 396.0 L1110.60 454.0 L1111.20 532.0 L1108.80 560.0 L1111.80 595.0 L1109.50 615.0 L1112.30 662.0 L1113.50 627.0 L1115.50 621.0 L1114.30 585.0 L1117.00 565.0 L1116.20 535.0 L1119.25 502.0 L1121.70 516.0 L1122.50 576.0 L1122.30 683.0 L1122.60 780.0 L1123.00 860.4 L1123.70 907.0 L1125.00 938.1 L1126.90 909.6 L1128.90 896.7 L1130.80 891.5 L1132.10 933.0 L1133.40 961.5 L1135.40 969.2 L1137.30 965.4 L1138.00 1000.4 L1140.60 1012.0 L1144.40 1003.0 L1145.70 990.0 L1149.60 986.1 L1150.90 1000.4 L1154.20 1012.0 L1157.40 1000.4 L1160.00 1025.0 L1162.60 1010.7 L1165.20 1012.0 L1167.80 1036.6 L1173.00 1044.4 L1175.50 1013.3 L1178.10 1014.6 L1181.40 1047.0 L1183.30 1025.0 L1185.90 1043.1 L1188.50 1023.7 L1191.70 1017.2 L1193.70 1028.9 L1196.90 1031.5 L1199.50 1022.4 L1201.50 1000.4 L1203.40 981.0 L1206.00 948.5 L1209.10 966.1 L1209.50 984.3 L1210.70 1003.3 L1212.40 1011.6 L1214.90 1024.0 L1217.40 1028.1 L1220.70 1024.0 L1221.10 999.2 L1224.00 999.2 L1224.80 986.8 L1225.60 970.2 L1227.30 945.5 L1228.90 949.6 L1230.20 974.4 L1231.40 997.5 L1233.90 999.2 L1236.75 1019.8 L1239.70 1007.4 L1241.30 989.3 L1243.80 986.8 L1246.30 995.0 L1249.60 986.8 L1250.40 978.5 L1252.10 970.2 L1254.50 956.2 L1257.00 966.1 L1259.50 967.8 L1260.70 986.8 L1262.00 1014.0 L1263.60 1024.0 L1265.30 1042.1 L1266.20 1054.0" stroke="#b05a35" stroke-width="4.2" fill="none" stroke-linejoin="round"/>
<path d="M219.50 1966.0 L221.50 1968.4 L223.60 1981.3 L226.50 1979.9 L227.90 1946.9 L229.40 1929.7 L230.80 1923.9 L233.70 1901.0 L235.80 1915.3 L238.00 1944.0 L240.10 1922.5 L242.30 1886.6 L245.10 1876.5 L246.60 1908.1 L248.00 1929.7 L249.40 1965.5 L252.30 1958.4 L254.50 1956.9 L256.60 1962.7 L260.90 1964.1 L264.50 1964.1 L266.70 1944.0 L268.80 1915.3 L271.70 1886.6 L273.10 1850.7 L273.40 1720.0 L273.30 1634.0 L274.20 1540.0 L275.20 1476.0 L277.50 1463.0 L280.20 1508.0 L281.70 1601.0 L282.50 1560.0 L283.40 1345.0 L286.40 1301.0 L289.30 1350.0 L289.50 1667.0 L290.00 1720.0 L290.40 1843.5 L291.80 1865.1 L294.70 1893.8 L296.10 1915.3 L297.50 1941.1 L299.70 1915.3 L301.80 1879.4 L303.30 1800.5 L304.70 1750.2 L306.30 1661.0 L308.30 1700.0 L309.00 1793.3 L309.70 1857.9 L311.20 1922.5 L314.00 1929.7 L316.20 1922.5 L318.30 1944.0 L320.50 1948.3 L325.15 1944.0 L328.40 1958.4 L331.30 1952.6 L333.40 1946.9 L334.90 1915.3 L335.60 1886.6 L336.30 1810.5 L338.40 1814.8 L339.90 1865.1 L341.65 1901.0 L344.90 1886.6 L346.30 1872.2 L348.50 1869.4 L350.60 1886.6 L352.80 1872.2 L355.70 1869.4 L357.80 1876.5 L360.00 1883.7 L361.40 1865.1 L362.10 1829.2 L362.80 1771.8 L362.20 1850.7 L362.90 1822.0 L364.30 1779.0 L365.00 1728.7 L365.90 1699.0 L367.30 1705.0 L368.60 1757.4 L369.40 1850.7 L370.80 1843.5 L371.50 1793.3 L372.90 1757.4 L375.50 1761.7 L375.80 1720.0 L375.50 1667.0 L376.40 1585.0 L377.40 1528.0 L379.90 1523.5 L382.20 1573.0 L383.00 1667.0 L383.00 1757.4 L383.30 1850.7 L385.10 1865.1 L388.00 1872.2 L390.20 1889.5 L393.80 1888.0 L395.90 1912.4 L398.80 1926.8 L403.80 1915.3 L408.10 1928.2 L411.00 1929.7 L413.80 1932.5 L415.30 1901.0 L418.20 1893.8 L421.00 1872.2 L423.20 1836.4 L425.30 1824.9 L426.80 1843.5 L428.20 1865.1 L430.40 1886.6 L432.50 1915.3 L434.70 1893.8 L436.80 1865.1 L439.70 1865.1 L441.80 1822.0 L444.00 1781.8 L446.90 1814.8 L448.30 1850.7 L449.70 1886.6 L451.90 1915.3 L454.00 1919.6 L456.20 1893.8 L457.60 1872.2 L459.10 1862.2 L461.20 1883.7 L462.70 1908.1 L464.80 1922.5 L467.70 1912.4 L469.80 1918.2 L472.70 1938.3 L474.90 1929.7 L477.70 1896.6 L479.90 1915.3 L481.30 1934.0 L484.90 1932.5 L488.50 1932.5 L490.60 1915.3 L492.10 1879.4 L493.50 1836.4 L494.90 1771.8 L497.10 1763.2 L498.50 1800.5 L499.90 1843.5 L501.40 1901.0 L502.80 1911.0 L502.20 1911.0 L505.70 1898.0 L507.90 1865.1 L509.30 1829.2 L509.50 1720.0 L509.30 1618.0 L510.40 1551.0 L510.90 1405.0 L513.75 1326.0 L516.20 1551.0 L516.90 1720.0 L517.20 1797.6 L517.90 1843.5 L518.70 1895.2 L519.80 1920.0 L521.00 1934.0 L523.50 1932.0 L525.00 1930.0 L527.30 1916.0 L527.60 1892.0 L529.50 1884.0 L531.70 1882.6 L534.40 1894.4 L537.05 1911.0 L539.50 1870.0 L540.50 1849.0 L541.80 1870.0 L542.80 1898.6 L544.20 1909.0 L546.90 1905.6 L548.80 1899.5 L551.00 1886.6 L553.10 1865.1 L556.00 1862.2 L557.40 1843.5 L558.10 1800.5 L558.00 1713.0 L558.30 1539.0 L559.70 1389.0 L560.60 1255.0 L563.00 1233.0 L565.50 1312.0 L566.40 1500.0 L567.10 1690.0 L567.20 1800.5 L567.50 1856.5 L568.20 1893.8 L571.80 1898.1 L573.20 1903.8 L576.45 1915.3 L580.40 1889.5 L583.20 1890.9 L586.10 1898.1 L589.00 1908.1 L593.30 1916.7 L596.20 1901.0 L599.00 1903.8 L601.20 1893.8 L602.60 1879.4 L604.80 1872.2 L606.90 1859.3 L609.10 1872.2 L612.00 1898.1 L613.40 1872.2 L614.80 1850.7 L615.50 1814.8 L615.80 1671.0 L616.20 1593.0 L617.00 1526.0 L620.50 1509.5 L622.70 1560.0 L623.10 1644.0 L623.20 1720.0 L623.40 1822.0 L624.90 1865.1 L626.30 1879.4 L627.70 1898.1 L629.90 1915.3 L632.00 1918.2 L634.20 1901.0 L636.40 1903.8 L638.50 1908.1 L640.70 1922.5 L643.50 1921.0 L646.40 1918.2 L648.60 1898.1 L649.30 1918.2 L650.70 1901.0 L652.90 1880.9 L656.50 1890.9 L659.40 1902.4 L662.20 1886.6 L664.40 1865.1 L666.50 1847.8 L668.70 1849.3 L670.80 1843.5 L671.60 1822.0 L672.60 1809.1 L674.40 1829.2 L675.10 1865.1 L676.60 1886.6 L680.20 1893.8 L683.00 1890.9 L685.90 1903.8 L688.10 1908.1 L690.90 1919.6 L694.50 1921.0 L697.40 1926.8 L700.30 1934.0 L703.80 1921.0 L706.70 1919.6 L709.60 1926.8 L712.50 1908.1 L713.90 1886.6 L714.60 1850.7 L715.30 1819.1 L716.80 1793.3 L718.20 1768.9 L719.60 1760.3 L721.10 1786.1 L721.80 1814.8 L723.20 1836.4 L726.80 1839.2 L727.50 1886.6 L729.70 1898.1 L732.60 1908.1 L734.70 1919.6 L737.60 1908.1 L741.20 1912.4 L744.00 1919.6 L746.20 1908.1 L747.60 1879.4 L749.10 1850.7 L750.50 1819.1 L754.10 1819.1 L755.50 1786.1 L757.00 1757.4 L758.30 1710.0 L760.00 1697.0 L761.50 1730.0 L762.00 1786.1 L762.70 1850.7 L764.10 1886.6 L765.60 1915.3 L767.70 1926.8 L771.30 1921.0 L774.90 1912.4 L777.80 1901.0 L780.60 1892.3 L782.80 1903.8 L785.00 1918.2 L787.80 1923.9 L790.00 1931.1 L792.80 1921.0 L792.90 1922.5 L796.50 1912.4 L799.30 1902.4 L802.20 1913.9 L806.50 1909.6 L810.10 1912.4 L813.70 1923.9 L816.60 1906.7 L820.90 1903.8 L822.30 1892.3 L825.90 1892.3 L827.30 1879.4 L828.80 1862.2 L830.20 1809.1 L830.90 1760.3 L831.60 1700.0 L833.75 1649.5 L835.90 1700.0 L836.60 1733.0 L836.60 1797.6 L838.10 1847.8 L838.80 1901.0 L841.00 1915.3 L843.80 1923.9 L846.00 1932.5 L848.80 1916.7 L852.40 1915.3 L856.00 1918.2 L858.90 1923.9 L861.80 1912.4 L864.60 1901.0 L865.40 1883.7 L866.10 1852.1 L866.80 1803.3 L868.20 1800.5 L868.50 1700.0 L867.80 1650.0 L868.30 1552.0 L869.50 1405.0 L872.50 1197.0 L875.50 1239.0 L876.30 1392.0 L877.00 1577.0 L877.80 1700.0 L878.30 1809.0 L879.50 1750.0 L880.00 1580.0 L883.00 1401.0 L886.80 1490.0 L887.00 1700.0 L887.20 1750.2 L887.60 1826.3 L888.30 1872.2 L889.00 1912.4 L890.50 1925.3 L892.60 1932.5 L894.80 1918.2 L899.80 1915.3 L903.40 1923.9 L906.30 1929.7 L909.10 1926.8 L910.60 1911.0 L914.20 1909.6 L917.00 1912.4 L920.60 1923.9 L924.20 1921.0 L926.40 1938.3 L928.50 1935.4 L932.10 1926.8 L936.40 1928.2 L937.80 1942.6 L937.90 1941.1 L940.70 1915.3 L945.00 1906.7 L947.20 1932.5 L950.80 1935.4 L953.70 1929.7 L955.80 1901.0 L958.00 1857.9 L959.40 1814.8 L960.10 1786.1 L961.60 1783.3 L963.00 1822.0 L963.70 1857.9 L965.10 1886.6 L968.00 1915.3 L969.40 1922.5 L972.30 1889.5 L974.50 1901.0 L975.90 1922.5 L978.10 1935.4 L980.90 1923.9 L983.80 1886.6 L985.20 1872.2 L987.40 1867.9 L988.80 1893.8 L989.50 1906.7 L992.40 1901.0 L996.00 1916.7 L998.20 1886.6 L999.60 1843.5 L1001.70 1819.1 L1003.90 1865.1 L1005.30 1901.0 L1007.50 1903.8 L1009.60 1872.2 L1012.50 1857.9 L1014.70 1886.6 L1016.10 1915.3 L1018.20 1872.2 L1020.40 1829.2 L1023.30 1822.0 L1024.70 1865.1 L1026.90 1893.8 L1029.70 1922.5 L1033.30 1929.7 L1035.50 1908.1 L1037.60 1890.9 L1039.80 1903.8 L1041.90 1922.5 L1044.80 1929.7 L1047.70 1935.4 L1052.00 1923.9 L1055.60 1929.7 L1058.40 1915.3 L1059.90 1872.2 L1061.30 1829.2 L1062.00 1786.1 L1062.70 1750.2 L1063.80 1719.8 L1064.50 1695.0 L1065.60 1639.0 L1066.50 1555.0 L1067.10 1462.0 L1070.40 1403.0 L1073.70 1418.0 L1074.10 1509.0 L1073.20 1560.0 L1073.20 1719.8 L1073.50 1764.6 L1074.20 1836.4 L1075.00 1879.4 L1076.40 1908.1 L1078.50 1919.6 L1080.70 1929.7 L1082.80 1938.3 L1081.40 1935.4 L1084.30 1938.3 L1088.60 1932.5 L1090.80 1908.1 L1093.60 1885.2 L1095.80 1898.1 L1099.40 1908.1 L1100.80 1886.6 L1102.20 1863.6 L1103.00 1800.5 L1103.70 1750.2 L1104.40 1720.0 L1104.70 1637.0 L1105.00 1575.0 L1105.70 1483.0 L1108.75 1443.0 L1109.80 1598.0 L1112.00 1500.0 L1114.50 1430.0 L1116.50 1460.0 L1117.30 1560.0 L1117.50 1640.0 L1117.30 1743.1 L1120.20 1747.4 L1120.90 1778.9 L1121.60 1819.1 L1123.10 1883.7 L1125.20 1915.3 L1127.40 1893.8 L1131.00 1872.2 L1132.40 1901.0 L1133.80 1929.7 L1135.30 1936.8 L1138.10 1936.8 L1139.60 1955.5 L1141.70 1958.4 L1143.20 1936.8 L1144.60 1895.2 L1146.70 1929.7 L1150.30 1938.3 L1153.20 1965.5 L1157.50 1969.8 L1160.40 1975.6 L1164.00 1962.7 L1166.10 1972.7 L1169.00 1972.7 L1174.00 1984.2 L1179.00 1974.2 L1183.30 1977.0 L1188.40 1965.5 L1191.20 1968.4 L1194.80 1979.9 L1198.40 1969.8 L1201.30 1962.7 L1202.70 1929.7 L1204.20 1908.1 L1205.60 1880.9 L1207.70 1898.1 L1209.20 1915.3 L1211.30 1944.0 L1213.50 1951.2 L1217.10 1948.3 L1219.20 1958.4 L1222.40 1967.1 L1225.00 1931.5 L1226.10 1896.0 L1228.70 1894.5 L1229.80 1925.6 L1230.60 1942.7 L1232.00 1955.3 L1235.00 1959.7 L1238.00 1961.2 L1239.50 1953.8 L1241.70 1939.0 L1243.50 1930.1 L1246.10 1933.8 L1249.10 1940.4 L1252.10 1931.5 L1253.90 1927.8 L1255.40 1935.2 L1256.10 1950.1 L1257.60 1964.9 L1258.70 1972.3 L1262.40 1972.3 L1264.70 1976.0 L1265.40 1983.4 L1267.60 1990.8 L1270.00 2001.0" stroke="#b05a35" stroke-width="4.2" fill="none" stroke-linejoin="round"/>
<path d="M400 1056 H600 M400 1116 H600 M567.2 1056 V1076 M567.2 1116 V1096" stroke="#0c58a8" stroke-width="3.8" fill="none"/>
</g>
</svg></body></html>
